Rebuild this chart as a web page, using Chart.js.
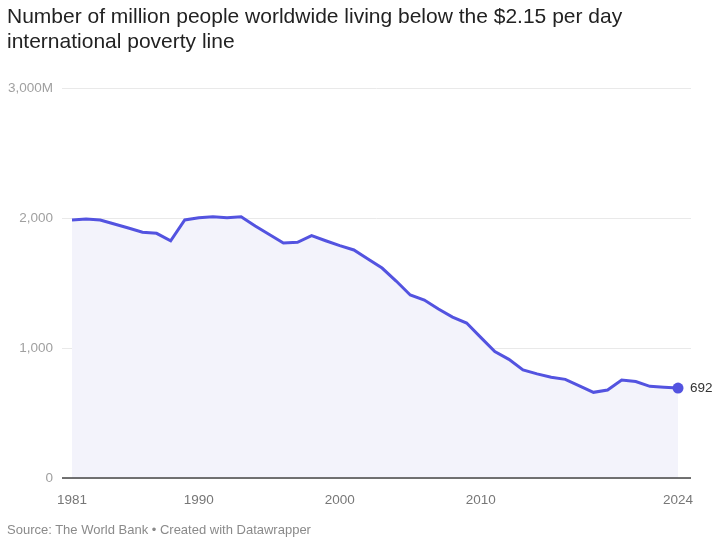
<html>

<head>
    <meta charset="utf-8" />
    <title>Poverty line chart</title>
    <script src="https://cdn.jsdelivr.net/npm/chart.js@4.4.1/dist/chart.umd.min.js"></script>
    <style>
        body { margin: 0; background: #fff; font-family: "Liberation Sans", Arial, sans-serif; }
        #wrap { position: relative; width: 720px; height: 544px; overflow: hidden; }
        #titulo { position: absolute; left: 7px; top: 4px; font-size: 21px; line-height: 24.5px; color: #222; }
        #fonte { position: absolute; left: 7px; top: 522px; font-size: 13px; color: #8a8a8a; }
        #grafico { position: absolute; left: 0; top: 0; }
    </style>
</head>

<body>
    <div id="wrap">
        <canvas id="grafico" width="720" height="544"></canvas>
        <div id="titulo">Number of million people worldwide living below the $2.15 per day<br>international poverty line</div>
        <div id="fonte">Source: The World Bank • Created with Datawrapper</div>
    </div>

    <script>
        // dados
        const anos = [1981, 1982, 1983, 1984, 1985, 1986, 1987, 1988, 1989, 1990,
            1991, 1992, 1993, 1994, 1995, 1996, 1997, 1998, 1999, 2000,
            2001, 2002, 2003, 2004, 2005, 2006, 2007, 2008, 2009, 2010,
            2011, 2012, 2013, 2014, 2015, 2016, 2017, 2018, 2019, 2020,
            2021, 2022, 2023, 2024];
        const pessoas = [1985, 1992, 1985, 1954, 1923, 1890, 1882, 1825, 1985, 2002,
            2010, 2002, 2010, 1939, 1873, 1807, 1813, 1864, 1825, 1788,
            1754, 1685, 1615, 1515, 1408, 1369, 1300, 1238, 1192, 1082,
            972, 913, 831, 801, 775, 759, 709, 659, 677, 754,
            742, 705, 698, 692];
        const ticksX = [1981, 1990, 2000, 2010, 2024];
        const ticksY = [0, 1000, 2000, 3000];

        const corLinha = '#5353e0';
        const fonte = '"Liberation Sans", Arial, sans-serif';

        // linha do zero por cima da área e rótulo do último ponto
        const extras = {
            id: 'extras',
            afterDatasetsDraw(chart) {
                const ctx = chart.ctx;
                const area = chart.chartArea;
                const y0 = chart.scales.y.getPixelForValue(0);
                ctx.save();
                ctx.strokeStyle = '#444';
                ctx.lineWidth = 1.5;
                ctx.beginPath();
                ctx.moveTo(area.left, y0);
                ctx.lineTo(area.right, y0);
                ctx.stroke();

                const meta = chart.getDatasetMeta(0);
                const ultimo = meta.data[meta.data.length - 1];
                ctx.font = '13.5px ' + fonte;
                ctx.fillStyle = '#333';
                ctx.textBaseline = 'middle';
                ctx.fillText(String(pessoas[pessoas.length - 1]), ultimo.x + 12, ultimo.y);
                ctx.restore();
            }
        };

        new Chart(document.getElementById('grafico'), {
            type: 'line',
            data: {
                datasets: [{
                    data: anos.map((a, i) => ({ x: a, y: pessoas[i] })),
                    borderColor: corLinha,
                    borderWidth: 3,
                    backgroundColor: '#f3f3fb',
                    fill: 'origin',
                    tension: 0,
                    pointRadius: ctx => ctx.dataIndex === anos.length - 1 ? 5.5 : 0,
                    pointBackgroundColor: corLinha,
                    pointBorderWidth: 0
                }]
            },
            options: {
                responsive: false,
                animation: false,
                layout: { padding: { left: 0, right: 29, top: 88, bottom: 36 } },
                plugins: { legend: { display: false }, tooltip: { enabled: false } },
                scales: {
                    x: {
                        type: 'linear',
                        min: 1980.29,
                        max: 2024.92,
                        afterBuildTicks: s => { s.ticks = ticksX.map(v => ({ value: v })); },
                        afterFit: s => { s.height = 30; },
                        grid: { display: false },
                        border: { display: false },
                        ticks: {
                            padding: 6,
                            maxRotation: 0,
                            autoSkip: false,
                            color: '#777',
                            font: { family: fonte, size: 13.5 },
                            callback: v => String(v)
                        }
                    },
                    y: {
                        min: 0,
                        max: 3000,
                        afterBuildTicks: s => { s.ticks = ticksY.map(v => ({ value: v })); },
                        afterFit: s => { s.width = 62; },
                        border: { display: false },
                        grid: {
                            drawTicks: false,
                            color: '#e9e9e9',
                            lineWidth: 1
                        },
                        ticks: {
                            padding: 9,
                            color: '#a0a0a0',
                            font: { family: fonte, size: 13.5 },
                            callback: v => v === 3000 ? '3,000M' : v.toLocaleString('en-US')
                        }
                    }
                }
            },
            plugins: [extras]
        });
    </script>
</body>

</html>
